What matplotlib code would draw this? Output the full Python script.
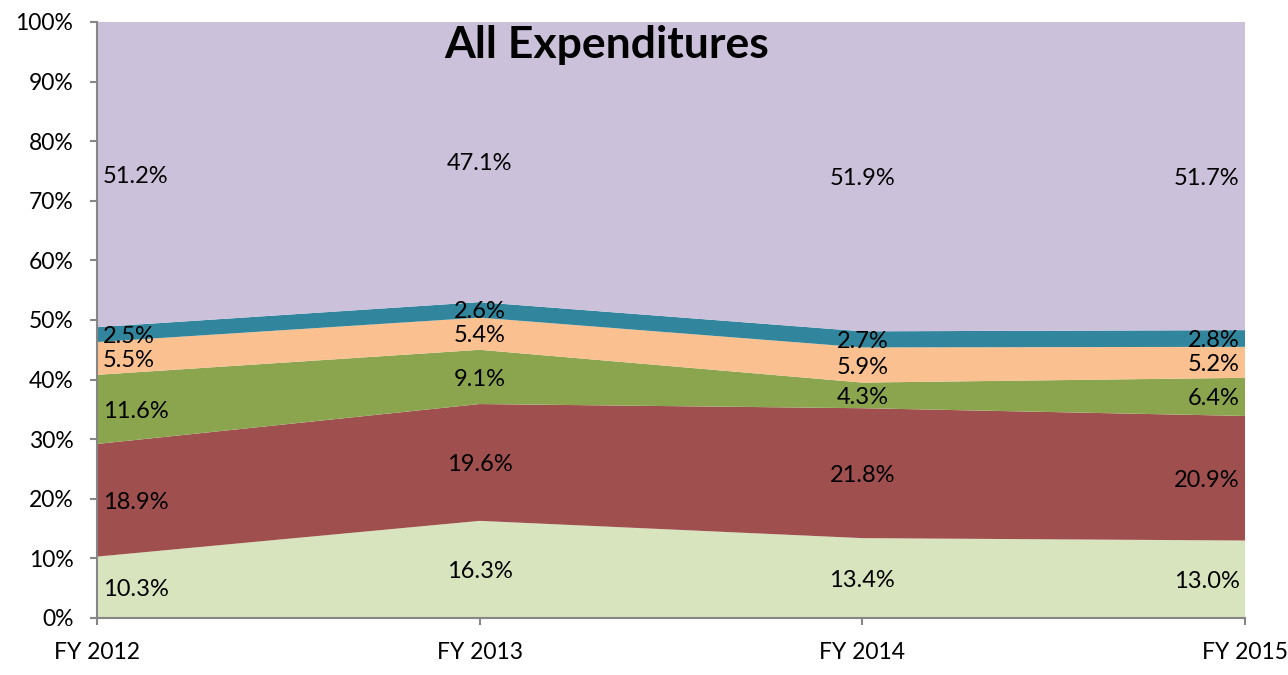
import numpy as np
import matplotlib.pyplot as plt

plt.rcParams['font.family'] = ['Lato', 'DejaVu Sans']

years = ["FY 2012", "FY 2013", "FY 2014", "FY 2015"]
# bottom to top
series_1 = [10.3, 16.3, 13.4, 13.0]
series_2 = [18.9, 19.6, 21.8, 20.9]
series_3 = [11.6, 9.1, 4.3, 6.4]
series_4 = [5.5, 5.4, 5.9, 5.2]
series_5 = [2.5, 2.6, 2.7, 2.8]
series_6 = [51.2, 47.1, 51.9, 51.7]

colors = ["#D7E4BD", "#A04F4F", "#8BA54F", "#FAC090", "#31859C", "#CCC1DA"]

data = np.array([series_1, series_2, series_3, series_4, series_5, series_6])
x = np.arange(len(years))

fig = plt.figure(figsize=(12.88, 6.75), dpi=100)
ax = fig.add_axes([97 / 1288, 1 - 618 / 675, (1245 - 97) / 1288, (618 - 22) / 675])

ax.stackplot(x, data, colors=colors, linewidth=0)

# labels at the middle of each band
bottoms = np.vstack([np.zeros(len(years)), np.cumsum(data, axis=0)[:-1]])
for i in range(data.shape[0]):
    for j in range(len(years)):
        mid = bottoms[i, j] + data[i, j] / 2
        if j == 0:
            ha, dx = "left", 4
        elif j == len(years) - 1:
            ha, dx = "right", -4
        else:
            ha, dx = "center", 0
        ax.annotate(f"{data[i, j]:.1f}%", (x[j], mid), xytext=(dx, -1.5),
                    textcoords="offset points", ha=ha, va="center",
                    fontsize=17, color="black")

ax.set_xlim(0, len(years) - 1)
ax.set_ylim(0, 100)
ax.set_yticks(np.arange(0, 101, 10))
ax.set_yticklabels([f"{v}%" for v in range(0, 101, 10)])
ax.set_xticks(x)
ax.set_xticklabels(years)
ax.tick_params(axis="both", labelsize=16.5, length=5, width=1.5, color="#868686", pad=12)

for s in ["top", "right"]:
    ax.spines[s].set_visible(False)
for s in ["left", "bottom"]:
    ax.spines[s].set_color("#868686")
    ax.spines[s].set_linewidth(1.5)

ax.text(0.444, 0.961, "All Expenditures", transform=ax.transAxes, ha="center",
        va="center", fontsize=32, fontweight="bold")

plt.savefig("out.png", dpi=100)
